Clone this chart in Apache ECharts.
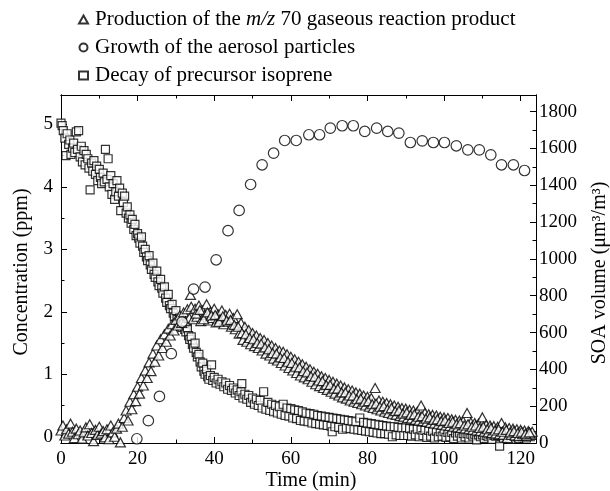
<!DOCTYPE html>
<html>
<head>
<meta charset="utf-8">
<script src="https://cdn.jsdelivr.net/npm/echarts@6/dist/echarts.min.js"></script>
<style>
  html, body { margin: 0; padding: 0; background: #fff; }
  #chart { width: 610px; height: 491px; }
</style>
</head>
<body>
<div id="chart"></div>
<script>
// series names
const nameM70 = 'Production of the m/z 70 gaseous reaction product'
const nameSoa = 'Growth of the aerosol particles'
const nameIso = 'Decay of precursor isoprene'

// [time (min), concentration (ppm)]
const m70Product = [
  [0,0.10],[0.5,0.18],[1,0.02],[1.5,0.12],[2,0.05],[2.5,0.21],[3,0.08],[3.5,-0.02],[4,0.13],[4.5,0.04],
  [5,0.10],[5.5,-0.03],[6,0.07],[6.5,0.15],[7,0.02],[7.5,0.20],[8,0.06],[8.5,-0.07],[9,0.11],[9.5,0.03],
  [10,0.16],[10.5,0.05],[11,0.09],[11.5,-0.01],[12,0.12],[12.5,-0.04],[13,0.18],[13.5,0.07],[14,0.00],[14.5,0.13],
  [15,0.21],[15.5,-0.09],[16,0.16],[16.5,0.30],[17,0.42],[17.5,0.26],[18,0.56],[18.5,0.44],[19,0.68],[19.5,0.57],
  [20,0.80],[20.5,0.69],[21,0.94],[21.5,0.82],[22,1.06],[22.5,0.94],[23,1.19],[23.5,1.05],[24,1.33],[24.5,1.20],
  [25,1.46],[25.5,1.30],[26,1.56],[26.5,1.42],[27,1.64],[27.5,1.52],[28,1.73],[28.5,1.62],[29,1.80],[29.5,1.70],
  [30,1.87],[30.5,1.78],[31,1.94],[31.5,1.82],[32,1.99],[32.5,1.85],[33,2.04],[33.5,1.90],[33.8,2.27],[34,2.08],
  [34.5,1.88],[35,2.05],[35.5,1.92],[36,2.10],[36.5,1.85],[37,2.02],[37.5,1.95],[38,2.12],[38.5,1.86],[39,2.00],
  [39.5,1.90],[40,2.05],[40.5,1.83],[41,1.96],[41.5,1.88],[42,2.02],[42.5,1.80],[43,1.95],[43.5,1.84],[44,1.97],
  [44.5,1.76],[45,1.90],[45.5,1.72],[46,1.96],[46.5,1.65],[47,1.82],[47.5,1.55],[48,1.76],[48.5,1.52],[49,1.71],
  [49.5,1.48],[50,1.66],[50.5,1.45],[51,1.62],[51.5,1.42],[52,1.58],[52.5,1.38],[53,1.55],[53.5,1.33],[54,1.50],
  [54.5,1.30],[55,1.46],[55.5,1.25],[56,1.42],[56.5,1.22],[57,1.38],[57.5,1.18],[58,1.36],[58.5,1.14],[59,1.32],
  [59.5,1.10],[60,1.28],[60.5,1.06],[61,1.24],[61.5,1.02],[62,1.20],[62.5,0.98],[63,1.16],[63.5,0.95],[64,1.12],
  [64.5,0.92],[65,1.08],[65.5,0.88],[66,1.04],[66.5,0.84],[67,1.01],[67.5,0.81],[68,0.97],[68.5,0.78],[69,0.94],
  [69.5,0.75],[70,0.91],[70.5,0.72],[71,0.88],[71.5,0.69],[72,0.85],[72.5,0.66],[73,0.82],[73.5,0.63],[74,0.79],
  [74.5,0.61],[75,0.76],[75.5,0.58],[76,0.74],[76.5,0.56],[77,0.71],[77.5,0.54],[78,0.69],[78.5,0.52],[79,0.66],
  [79.5,0.50],[80,0.64],[80.5,0.48],[81,0.62],[81.5,0.46],[82,0.78],[82.5,0.44],[83,0.58],[83.5,0.42],[84,0.56],
  [84.5,0.40],[85,0.54],[85.5,0.38],[86,0.52],[86.5,0.36],[87,0.50],[87.5,0.35],[88,0.48],[88.5,0.33],[89,0.46],
  [89.5,0.32],[90,0.45],[90.5,0.30],[91,0.43],[91.5,0.29],[92,0.42],[92.5,0.27],[93,0.40],[93.5,0.26],[94,0.50],
  [94.5,0.25],[95,0.38],[95.5,0.24],[96,0.36],[96.5,0.22],[97,0.35],[97.5,0.21],[98,0.34],[98.5,0.20],[99,0.32],
  [99.5,0.19],[100,0.31],[100.5,0.18],[101,0.30],[101.5,0.17],[102,0.28],[102.5,0.16],[103,0.27],[103.5,0.15],[104,0.26],
  [104.5,0.14],[105,0.25],[105.5,0.13],[106,0.38],[106.5,0.12],[107,0.23],[107.5,0.11],[108,0.22],[108.5,0.10],[109,0.21],
  [109.5,0.09],[110,0.31],[110.5,0.08],[111,0.19],[111.5,0.07],[112,0.18],[112.5,0.06],[113,0.17],[113.5,0.05],[114,0.16],
  [114.5,0.04],[115,0.22],[115.5,0.03],[116,0.15],[116.5,-0.02],[117,0.14],[117.5,0.03],[118,0.13],[118.5,0.02],[119,0.12],
  [119.5,0.01],[120,0.11],[120.5,0.04],[121,0.10],[121.5,0.02],[122,0.09],[122.5,0.05],[123,0.08],
  // middle of the band (repeat run)
  [35.25,1.97],[36.25,2.03],[37.25,1.88],[38.25,1.99],[39.25,1.94],[40.25,1.95],[41.25,1.84],[42.25,1.93],[43.25,1.86],[44.25,1.87],
  [45.25,1.79],[46.25,1.76],[47.25,1.66],[48.25,1.64],[49.25,1.58],[50.25,1.56],[51.25,1.50],[52.25,1.49],[53.25,1.43],[54.25,1.40],
  [55.25,1.34],[56.25,1.33],[57.25,1.27],[58.25,1.26],[59.25,1.20],[60.25,1.18],[61.25,1.12],[62.25,1.11],[63.25,1.05],[64.25,1.03],
  [65.25,0.97],[66.25,0.96],[67.25,0.90],[68.25,0.89],[69.25,0.83],[70.25,0.83],[71.25,0.77],[72.25,0.77],[73.25,0.71],[74.25,0.71],
  [75.25,0.66],[76.25,0.66],[77.25,0.60],[78.25,0.61],[79.25,0.56],[80.25,0.57],[81.25,0.52],[82.25,0.53],[83.25,0.48],[84.25,0.49],
  [85.25,0.44],[86.25,0.46],[87.25,0.41],[88.25,0.42],[89.25,0.37],[90.25,0.39],[91.25,0.35],[92.25,0.36],[93.25,0.32],[94.25,0.33],
  [95.25,0.29],[96.25,0.31],[97.25,0.27],[98.25,0.28],[99.25,0.25],[100.25,0.26],[101.25,0.22],[102.25,0.24],[103.25,0.20],[104.25,0.22],
  [105.25,0.18],[106.25,0.20],[107.25,0.16],[108.25,0.18],[109.25,0.14],[110.25,0.16],[111.25,0.12],[112.25,0.14],[113.25,0.10],[114.25,0.12],
  [115.25,0.08],[116.25,0.11],[117.25,0.07],[118.25,0.09],[119.25,0.06],[120.25,0.08],[121.25,0.05],[122.25,0.07]
]

// [time (min), concentration (ppm)]
const isopreneDecay = [
  [0,5.02],[0.3,4.98],[0.6,4.90],[1,4.78],[1.3,4.50],[1.6,4.85],[2,4.68],[2.3,4.75],[2.6,4.52],[3,4.62],
  [3.3,4.70],[3.6,4.55],[4,4.88],[4.3,4.60],[4.6,4.90],[5,4.48],[5.3,4.65],[5.6,4.40],[6,4.58],[6.3,4.35],
  [6.6,4.52],[7,4.45],[7.3,4.30],[7.6,3.95],[8,4.38],[8.3,4.25],[8.6,4.42],[9,4.20],[9.3,4.33],[9.6,4.10],
  [10,4.28],[10.3,4.15],[10.6,4.05],[11,4.22],[11.3,4.08],[11.6,4.60],[12,4.12],[12.3,4.45],[12.6,4.00],[13,4.18],
  [13.3,3.88],[13.6,4.05],[14,3.80],[14.3,3.92],[14.6,4.10],[15,3.85],[15.3,3.98],[15.6,3.62],[16,3.90],[16.3,3.75],
  [16.6,3.85],[17,3.58],[17.3,3.68],[17.6,3.50],[18,3.55],[18.3,3.42],[18.6,3.48],[19,3.32],[19.3,3.40],[19.6,3.22],
  [20,3.25],[20.3,3.18],[20.6,3.10],[21,3.20],[21.3,3.05],[21.6,2.95],[22,3.00],[22.3,2.88],[22.6,2.82],[23,2.90],
  [23.3,2.75],[23.6,2.68],[24,2.78],[24.3,2.60],[24.6,2.55],[25,2.65],[25.3,2.48],[25.6,2.42],[26,2.52],[26.3,2.38],
  [26.6,2.30],[27,2.40],[27.3,2.22],[27.6,2.15],[28,2.28],[28.3,2.10],[28.6,2.05],[29,2.12],[29.3,1.98],[29.6,1.92],
  [30,2.02],[30.3,1.88],[30.6,1.82],[31,1.90],[31.3,1.78],[31.6,1.75],[32,1.80],[32.3,1.72],[32.6,1.68],[33,1.74],
  [33.3,1.62],[33.6,1.56],[34,1.60],[34.3,1.48],[34.6,1.42],[35,1.50],[35.3,1.35],[35.6,1.28],[36,1.32],[36.3,1.20],
  [36.6,1.12],[37,1.18],[37.3,1.05],[37.6,1.00],[38,1.08],[38.3,0.96],[38.6,0.92],[39,0.98],[39.3,1.15],[39.6,0.90],
  [40,0.95],[40.5,0.86],[41,0.92],[41.5,0.84],[42,0.88],[42.5,0.80],[43,0.86],[43.5,0.76],[44,0.82],[44.5,0.74],
  [45,0.78],[45.5,0.70],[46,0.75],[46.5,0.66],[47,0.72],[47.2,0.85],[47.5,0.62],[48,0.68],[48.5,0.60],[49,0.66],
  [49.5,0.55],[50,0.62],[50.5,0.52],[51,0.60],[51.5,0.50],[52,0.58],[52.5,0.46],[52.9,0.72],[53.5,0.44],[54,0.55],
  [54.5,0.42],[55,0.52],[55.5,0.40],[56,0.50],[56.5,0.38],[57,0.48],[57.5,0.36],[58,0.52],[58.5,0.34],[59,0.46],
  [59.5,0.33],[60,0.45],[60.5,0.30],[61,0.43],[61.5,0.29],[62,0.42],[62.5,0.26],[63,0.40],[63.5,0.25],[64,0.38],
  [64.5,0.24],[65,0.37],[65.5,0.22],[66,0.36],[66.5,0.21],[67,0.34],[67.5,0.20],[68,0.33],[68.5,0.19],[69,0.32],
  [69.5,0.18],[70,0.31],[70.5,0.17],[70.8,0.08],[71,0.30],[71.5,0.16],[72,0.29],[72.5,0.15],[73,0.28],[73.5,0.12],
  [74,0.27],[74.5,0.14],[75,0.26],[75.5,0.13],[76,0.25],[76.5,0.12],[77,0.24],[77.5,0.11],[78,0.30],[78.5,0.10],
  [79,0.23],[79.5,0.09],[80,0.22],[80.5,0.08],[81,0.21],[81.5,0.07],[82,0.20],[82.5,0.06],[83,0.19],[83.5,0.05],
  [84,0.18],[84.5,0.05],[85,0.17],[85.5,0.04],[86,0.16],[86.5,0.00],[87,0.16],[87.5,0.03],[88,0.15],[88.5,0.02],
  [89,0.14],[89.5,0.02],[90,0.14],[90.5,0.02],[91,0.13],[91.5,0.01],[92,0.12],[92.5,0.03],[93,0.12],[93.5,0.00],
  [94,0.11],[94.5,0.02],[95,0.10],[95.5,-0.01],[96,0.10],[96.5,0.01],[97,0.09],[97.5,-0.02],[98,0.09],[98.5,0.00],
  [99,0.08],[99.5,0.01],[100,0.08],[100.5,-0.01],[101,0.07],[101.5,0.00],[102,0.07],[102.5,-0.03],[103,0.06],[103.5,0.01],
  [104,0.06],[104.5,-0.02],[105,0.05],[105.5,0.00],[106,0.05],[106.5,-0.02],[107,0.04],[107.5,0.01],[108,0.04],[108.5,-0.05],
  [109,0.03],[109.5,0.00],[110,0.03],[110.5,-0.03],[111,0.02],[111.5,0.00],[112,0.03],[112.5,-0.04],[113,0.02],[113.5,0.01],
  [114,0.02],[114.5,-0.15],[115,0.01],[115.5,-0.02],[116,0.04],[116.5,-0.01],[117,0.02],[117.5,-0.04],[118,0.03],[118.5,0.00],
  [119,0.02],[119.5,-0.03],[120,0.03],[120.5,0.00],[121,0.02],[121.5,-0.02],[122,0.01],[122.5,0.00],[123,0.02]
]

// [time (min), SOA volume (um3/m3)]
const soaVolume = [
  [19.8,23],[22.8,121],[25.7,253],[28.8,485],[31.6,657],[34.6,836],[37.6,847],[40.5,995],[43.6,1153],[46.5,1263],
  [49.5,1404],[52.5,1511],[55.5,1574],[58.4,1643],[61.4,1643],[64.7,1674],[67.5,1674],[70.3,1710],[73.4,1723],[76.3,1723],
  [79.3,1692],[82.4,1710],[85.3,1692],[88.2,1683],[91.2,1632],[94.3,1641],[97.2,1632],[100.1,1632],[103.2,1614],[106.2,1592],
  [109.2,1592],[112.2,1565],[115.0,1511],[118.1,1511],[121.0,1480]
]

// ticks
const xMajor = [0, 20, 40, 60, 80, 100, 120]
const xMinor = [10, 30, 50, 70, 90, 110]
const yLeftMajor = [0, 1, 2, 3, 4, 5]
const yLeftMinor = [0.5, 1.5, 2.5, 3.5, 4.5]
const yRightMajor = [0, 200, 400, 600, 800, 1000, 1200, 1400, 1600, 1800]
const yRightMinor = [100, 300, 500, 700, 900, 1100, 1300, 1500, 1700]

const serif = 'Liberation Serif, Times New Roman, serif'
const black = '#000'

const chart = echarts.init(document.getElementById('chart'), null, { renderer: 'canvas' })

function plain(v) {
  return String(v)
}

function xAx(pos, ticks, len, labels) {
  return {
    type: 'value', position: pos, min: 0, max: 124,
    axisLine: { show: true, onZero: false, lineStyle: { color: black, width: 1 } },
    axisTick: { show: true, inside: true, length: len, customValues: ticks, lineStyle: { color: black } },
    axisLabel: labels ? { show: true, customValues: ticks, margin: 7, color: black, fontFamily: serif, fontSize: 19, formatter: plain } : { show: false },
    splitLine: { show: false }
  }
}

function yAx(pos, min, max, ticks, len, labels, margin) {
  return {
    type: 'value', position: pos, min: min, max: max,
    axisLine: { show: true, onZero: false, lineStyle: { color: black, width: 1 } },
    axisTick: { show: true, inside: true, length: len, customValues: ticks, lineStyle: { color: black } },
    axisLabel: labels ? { show: true, customValues: ticks, margin: margin, color: black, fontFamily: serif, fontSize: 19, formatter: plain } : { show: false },
    splitLine: { show: false }
  }
}

const markStyle = { color: '#fff', borderColor: '#000', borderWidth: 1.2 }

chart.setOption({
  animation: false,
  backgroundColor: '#fff',
  grid: { left: 61, right: 74, top: 95, bottom: 48, containLabel: false },
  legend: {
    orient: 'vertical',
    left: 73,
    top: 4,
    itemWidth: 9,
    itemHeight: 8,
    itemGap: 7,
    selectedMode: false,
    data: [nameM70, nameSoa, nameIso],
    formatter: function (name) {
      if (name === nameM70) {
        return '{n|Production of the }{i|m/z}{n| 70 gaseous reaction product}'
      }
      return '{n|' + name + '}'
    },
    textStyle: {
      color: black,
      fontFamily: serif,
      fontSize: 21,
      padding: [0, 0, 0, 2],
      rich: {
        n: { fontFamily: serif, fontSize: 21, color: black },
        i: { fontFamily: serif, fontSize: 21, color: black, fontStyle: 'italic' }
      }
    }
  },
  xAxis: [
    xAx('bottom', xMajor, 6, true),
    xAx('bottom', xMinor, 3.5, false),
    xAx('top', xMajor, 6, false),
    xAx('top', xMinor, 3.5, false)
  ],
  yAxis: [
    yAx('left', -0.1, 5.47, yLeftMajor, 6, true, 8),
    yAx('right', 0, 1890, yRightMajor, 6, true, 3),
    yAx('left', -0.1, 5.47, yLeftMinor, 3.5, false, 8),
    yAx('right', 0, 1890, yRightMinor, 3.5, false, 3)
  ],
  graphic: [
    {
      type: 'text', x: 22, y: 272, rotation: Math.PI / 2,
      style: { text: 'Concentration (ppm)', fill: black, font: '20px ' + serif, textAlign: 'center', textVerticalAlign: 'middle' }
    },
    {
      type: 'text', x: 600, y: 273, rotation: Math.PI / 2,
      style: { text: 'SOA volume (\u03bcm\u00b3/m\u00b3)', fill: black, font: '20px ' + serif, textAlign: 'center', textVerticalAlign: 'middle' }
    },
    {
      type: 'text', x: 311, y: 481,
      style: { text: 'Time (min)', fill: black, font: '20px ' + serif, textAlign: 'center', textVerticalAlign: 'middle' }
    }
  ],
  series: [
    {
      name: nameIso, type: 'scatter', xAxisIndex: 0, yAxisIndex: 0, clip: false,
      symbol: 'rect', symbolSize: 8, itemStyle: markStyle, data: isopreneDecay
    },
    {
      name: nameM70, type: 'scatter', xAxisIndex: 0, yAxisIndex: 0, clip: false,
      symbol: 'triangle', symbolSize: [10, 9], itemStyle: markStyle, data: m70Product
    },
    {
      name: nameSoa, type: 'scatter', xAxisIndex: 0, yAxisIndex: 1, clip: false,
      symbol: 'circle', symbolSize: 10.5, itemStyle: markStyle, data: soaVolume
    }
  ]
})
</script>
</body>
</html>
